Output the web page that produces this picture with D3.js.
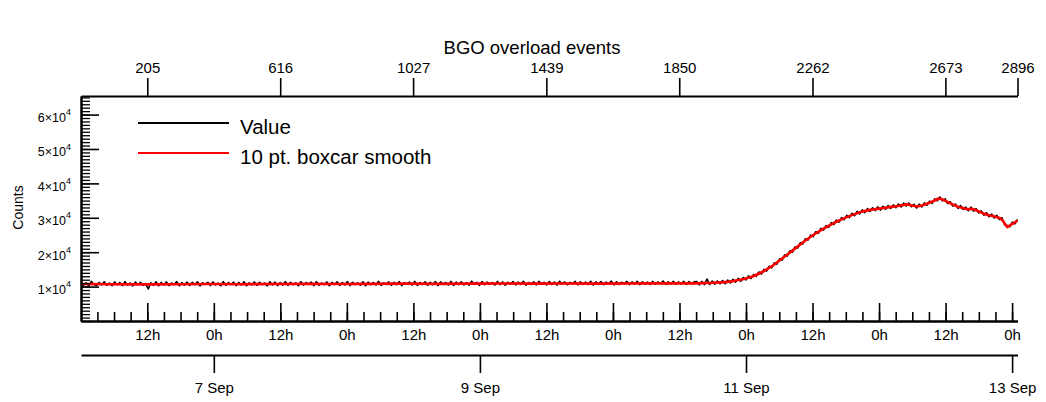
<!DOCTYPE html>
<html>
<head>
<meta charset="utf-8">
<script src="https://cdnjs.cloudflare.com/ajax/libs/d3/7.8.5/d3.min.js"></script>
<style>
  html, body { margin: 0; padding: 0; background: #fff; }
  svg { display: block; font-family: "Liberation Sans", Arial, Helvetica, sans-serif; }
</style>
</head>
<body>
<svg id="chart" width="1046" height="402"></svg>
<script>
// ---------------- DATA ----------------
const chartTitle = "BGO overload events";
const yAxisTitle = "Counts";
const seriesNames = ["Value", "10 pt. boxcar smooth"];
const startTimeUTC = Date.UTC(2010, 8, 6, 0, 2, 30); // first point
const minutesPerPoint = 3.5;
const lastIndex = 2896;
const rawStep = 8; // raw values read every 8 points
const rawValues = [
  11300, 10400, 11100, 10200, 11500, 10600, 10300, 11200, 10500, 11400, 10350, 11000, 10250, 11350, 10550, 11150, 10300, 11450, 10450, 11050,
  10200, 11300, 10600, 11250, 10350, 10800, 9300, 11100, 10400, 11400, 10250, 11200, 10500, 11350, 10300, 11050, 10600, 11450, 10250, 11150,
  10450, 11300, 10350, 11200, 10550, 11400, 10200, 11100, 10650, 11250, 10300, 11350, 10500, 11000, 10250, 11450, 10400, 11150, 10600, 11300,
  10300, 11200, 10450, 11400, 10250, 11100, 10550, 11350, 10350, 11250, 10600, 11050, 10200, 11400, 10500, 11300, 10300, 11150, 10450, 11450,
  10350, 11250, 10550, 11100, 10250, 11400, 10450, 11200, 10650, 11300, 10300, 11450, 10400, 11050, 10550, 11350, 10250, 11200, 10600, 11400,
  10350, 11150, 10500, 11450, 10300, 11250, 10600, 11100, 10400, 11400, 10250, 11300, 10550, 11200, 10450, 11500, 10350, 11100, 10650, 11350,
  10400, 11250, 10550, 11450, 10300, 11150, 10700, 11300, 10450, 11500, 10350, 11200, 10600, 11400, 10400, 11250, 10550, 11450, 10300, 11350,
  10650, 11200, 10450, 11500, 10350, 11300, 10600, 11400, 10500, 11150, 10400, 11550, 10650, 11250, 10350, 11450, 10550, 11300, 10700, 11200,
  10450, 11500, 10600, 11350, 10400, 11250, 10700, 11450, 10500, 11300, 10650, 11550, 10400, 11200, 10600, 11400, 10500, 11500, 10750, 11250,
  10500, 11450, 10650, 11300, 10450, 11550, 10700, 11350, 10550, 11250, 10750, 11500, 10500, 11400, 10650, 11300, 10600, 11550, 10450, 11350,
  10700, 11450, 10550, 11300, 10750, 11600, 10500, 11400, 10650, 11250, 10800, 11500, 10600, 11350, 10700, 11550, 10550, 11400, 10750, 11300,
  10600, 11500, 10700, 11350, 10800, 11600, 10650, 11400, 10750, 11550, 10700, 11350, 10800, 11500, 10650, 11450, 10850, 11400,
  11450, 10500, 11500, 10600, 12200, 10600, 11600, 10700, 11650, 10800, 11750, 10850, 11900, 11050, 12100, 11300, 12400, 11550, 12650, 11950,
  13100, 12350, 13550, 12950, 14250, 13650, 15000, 14500, 15900, 15450, 16900, 16500, 18100, 17700, 19200, 18850, 20400, 20000, 21550, 21200,
  22750, 22400, 23900, 23500, 24950, 24550, 25950, 25500, 26900, 26400, 27750, 27200, 28600, 28050, 29350, 28750, 30050, 29450, 30700, 30050,
  31300, 30600, 31850, 31150, 32300, 31500, 32650, 31850, 32900, 32100, 33150, 32250, 33350, 32500, 33550, 32700, 33750, 32950, 34000, 33150,
  34250, 33400, 34300, 33200, 33950, 32850, 33950, 33150, 34350, 33650, 34850, 34200, 35500, 34950, 36050, 34900, 35500, 34150, 34650, 33400,
  34000, 32750, 33550, 32400, 33100, 32050, 33100, 31950, 32650, 31400, 32000, 30750, 31450, 30300, 31100, 29950, 30700, 29500, 30000, 27950,
  27800, 27350, 28750, 28250, 29500
];
const smoothIndex = [0, 100, 200, 300, 400, 500, 600, 700, 800, 900, 1000, 1100, 1200, 1300, 1400, 1500, 1600, 1700, 1800, 1850,
  1900, 1955, 1990, 2017, 2050, 2079, 2110, 2141, 2170, 2202, 2233, 2264, 2295, 2326, 2360, 2390, 2410, 2440, 2471, 2500,
  2530, 2554, 2570, 2585, 2600, 2616, 2635, 2652, 2665, 2678, 2695, 2709, 2725, 2740, 2755, 2770, 2785, 2801, 2820, 2843,
  2850, 2864, 2880, 2896];
const smoothValues = [10750, 10700, 10650, 10700, 10750, 10700, 10750, 10800, 10750, 10800, 10850, 10800, 10850, 10900, 10850, 10900, 10850, 10900, 10950, 10950,
  10950, 11100, 11300, 11600, 12200, 13000, 14400, 16200, 18300, 20600, 22900, 25000, 26800, 28400, 29900, 31000, 31700, 32300, 32700, 33100,
  33500, 33900, 33600, 33300, 33600, 34100, 34800, 35600, 35300, 34700, 33900, 33300, 32900, 32500, 32600, 32100, 31500, 30900, 30500, 29900,
  29200, 27300, 28200, 29200];
const topTickValues = [205, 616, 1027, 1439, 1850, 2262, 2673, 2896];
const yTickValues = [10000, 20000, 30000, 40000, 50000, 60000];
const yMax = 65400;
const yMinorStep = 1000;

// ---------------- CHART ----------------
const svg = d3.select("#chart");
const L = 81, R = 1017.5, T = 96, B = 321;
const timeOf = i => new Date(startTimeUTC + i * minutesPerPoint * 60000);

const xi = d3.scaleLinear().domain([0, lastIndex]).range([L, R]);
const xt = d3.scaleUtc().domain([timeOf(0), timeOf(lastIndex)]).range([L, R]);
const y = d3.scaleLinear().domain([0, yMax]).range([B, T]);

const rawData = rawValues.map((v, i) => ({ i: Math.min(i * rawStep, lastIndex), v }));
const smoothData = smoothIndex.map((ix, k) => ({ i: ix, v: smoothValues[k] }));

function styleAxis(g, lw) {
  g.select(".domain").attr("stroke", "#000").attr("stroke-width", lw);
  g.selectAll(".tick line").attr("stroke", "#000").attr("stroke-width", 1.6);
  g.selectAll("text").attr("fill", "#000");
}

// title
svg.append("text").attr("x", 532).attr("y", 47).attr("text-anchor", "middle")
  .attr("dominant-baseline", "central").attr("font-size", 18.5).text(chartTitle);

// data lines
const line = d3.line().x(d => xi(d.i)).y(d => y(d.v));
svg.append("path").datum(rawData).attr("d", line).attr("fill", "none")
  .attr("stroke", "#000").attr("stroke-width", 1.6).attr("stroke-linejoin", "round");
svg.append("path").datum(smoothData).attr("d", line).attr("fill", "none")
  .attr("stroke", "#ff0000").attr("stroke-width", 2.6).attr("stroke-linejoin", "round");

// left axis minor ticks
const yMinorTicks = d3.range(0, yMax + 1, yMinorStep);
const gYm = svg.append("g").attr("transform", `translate(${L},0)`)
  .call(d3.axisLeft(y).tickValues(yMinorTicks).tickSize(-9).tickSizeOuter(0).tickFormat(""));
styleAxis(gYm, 2);
gYm.selectAll(".tick line").attr("stroke-width", 1.3);

// left axis major ticks with superscript labels
const gY = svg.append("g").attr("transform", `translate(${L},0)`)
  .call(d3.axisLeft(y).tickValues(yTickValues).tickSize(-18).tickSizeOuter(0).tickPadding(10).tickFormat(""));
styleAxis(gY, 2);
gY.selectAll(".tick").each(function (d) {
  const exp = Math.floor(Math.log10(d));
  const mant = Math.round(d / Math.pow(10, exp));
  const t = d3.select(this).select("text").attr("font-size", 12.5).attr("dy", "0.55em").attr("x", -10);
  t.append("tspan").text(mant + "\u00d710");
  t.append("tspan").attr("font-size", 9).attr("dy", "-0.75em").text(exp);
});

svg.append("text").attr("transform", `translate(18,${(T + B) / 2 - 1}) rotate(-90)`)
  .attr("text-anchor", "middle").attr("dominant-baseline", "central")
  .attr("font-size", 14).text(yAxisTitle);

// top index axis
const gTop = svg.append("g").attr("transform", `translate(0,${T})`)
  .call(d3.axisTop(xi).tickValues(topTickValues).tickSize(18).tickSizeOuter(0).tickPadding(5)
    .tickFormat(d3.format("d")));
styleAxis(gTop, 2);
gTop.selectAll("text").attr("font-size", 15).attr("font-family", "Liberation Sans, Arial, sans-serif");

// bottom time axis (hours)
const gHm = svg.append("g").attr("transform", `translate(0,${B})`)
  .call(d3.axisBottom(xt).ticks(d3.utcHour.every(3)).tickSize(-9).tickSizeOuter(0).tickFormat(""));
styleAxis(gHm, 2);
const gH = svg.append("g").attr("transform", `translate(0,${B})`)
  .call(d3.axisBottom(xt).ticks(d3.utcHour.every(12)).tickSize(-18).tickSizeOuter(0).tickPadding(8)
    .tickFormat(d => d.getUTCHours() + "h"));
styleAxis(gH, 2);
gH.selectAll("text").attr("font-size", 15).attr("font-family", "Liberation Sans, Arial, sans-serif");

// date axis
const gD = svg.append("g").attr("transform", `translate(0,355)`)
  .call(d3.axisBottom(xt).ticks(d3.utcDay.every(2)).tickSize(18).tickSizeOuter(0).tickPadding(9)
    .tickFormat(d3.utcFormat("%-d %b")));
styleAxis(gD, 2);
gD.selectAll("text").attr("font-size", 15).attr("font-family", "Liberation Sans, Arial, sans-serif");

// legend
const legend = svg.append("g");
[["#000", 123], ["#ff0000", 153]].forEach((s, k) => {
  legend.append("line").attr("x1", 138).attr("x2", 229).attr("y1", s[1]).attr("y2", s[1])
    .attr("stroke", s[0]).attr("stroke-width", 2);
  legend.append("text").attr("x", 240).attr("y", s[1] + 3).attr("dominant-baseline", "central")
    .attr("font-size", 20.5).text(seriesNames[k]);
});
</script>
</body>
</html>
